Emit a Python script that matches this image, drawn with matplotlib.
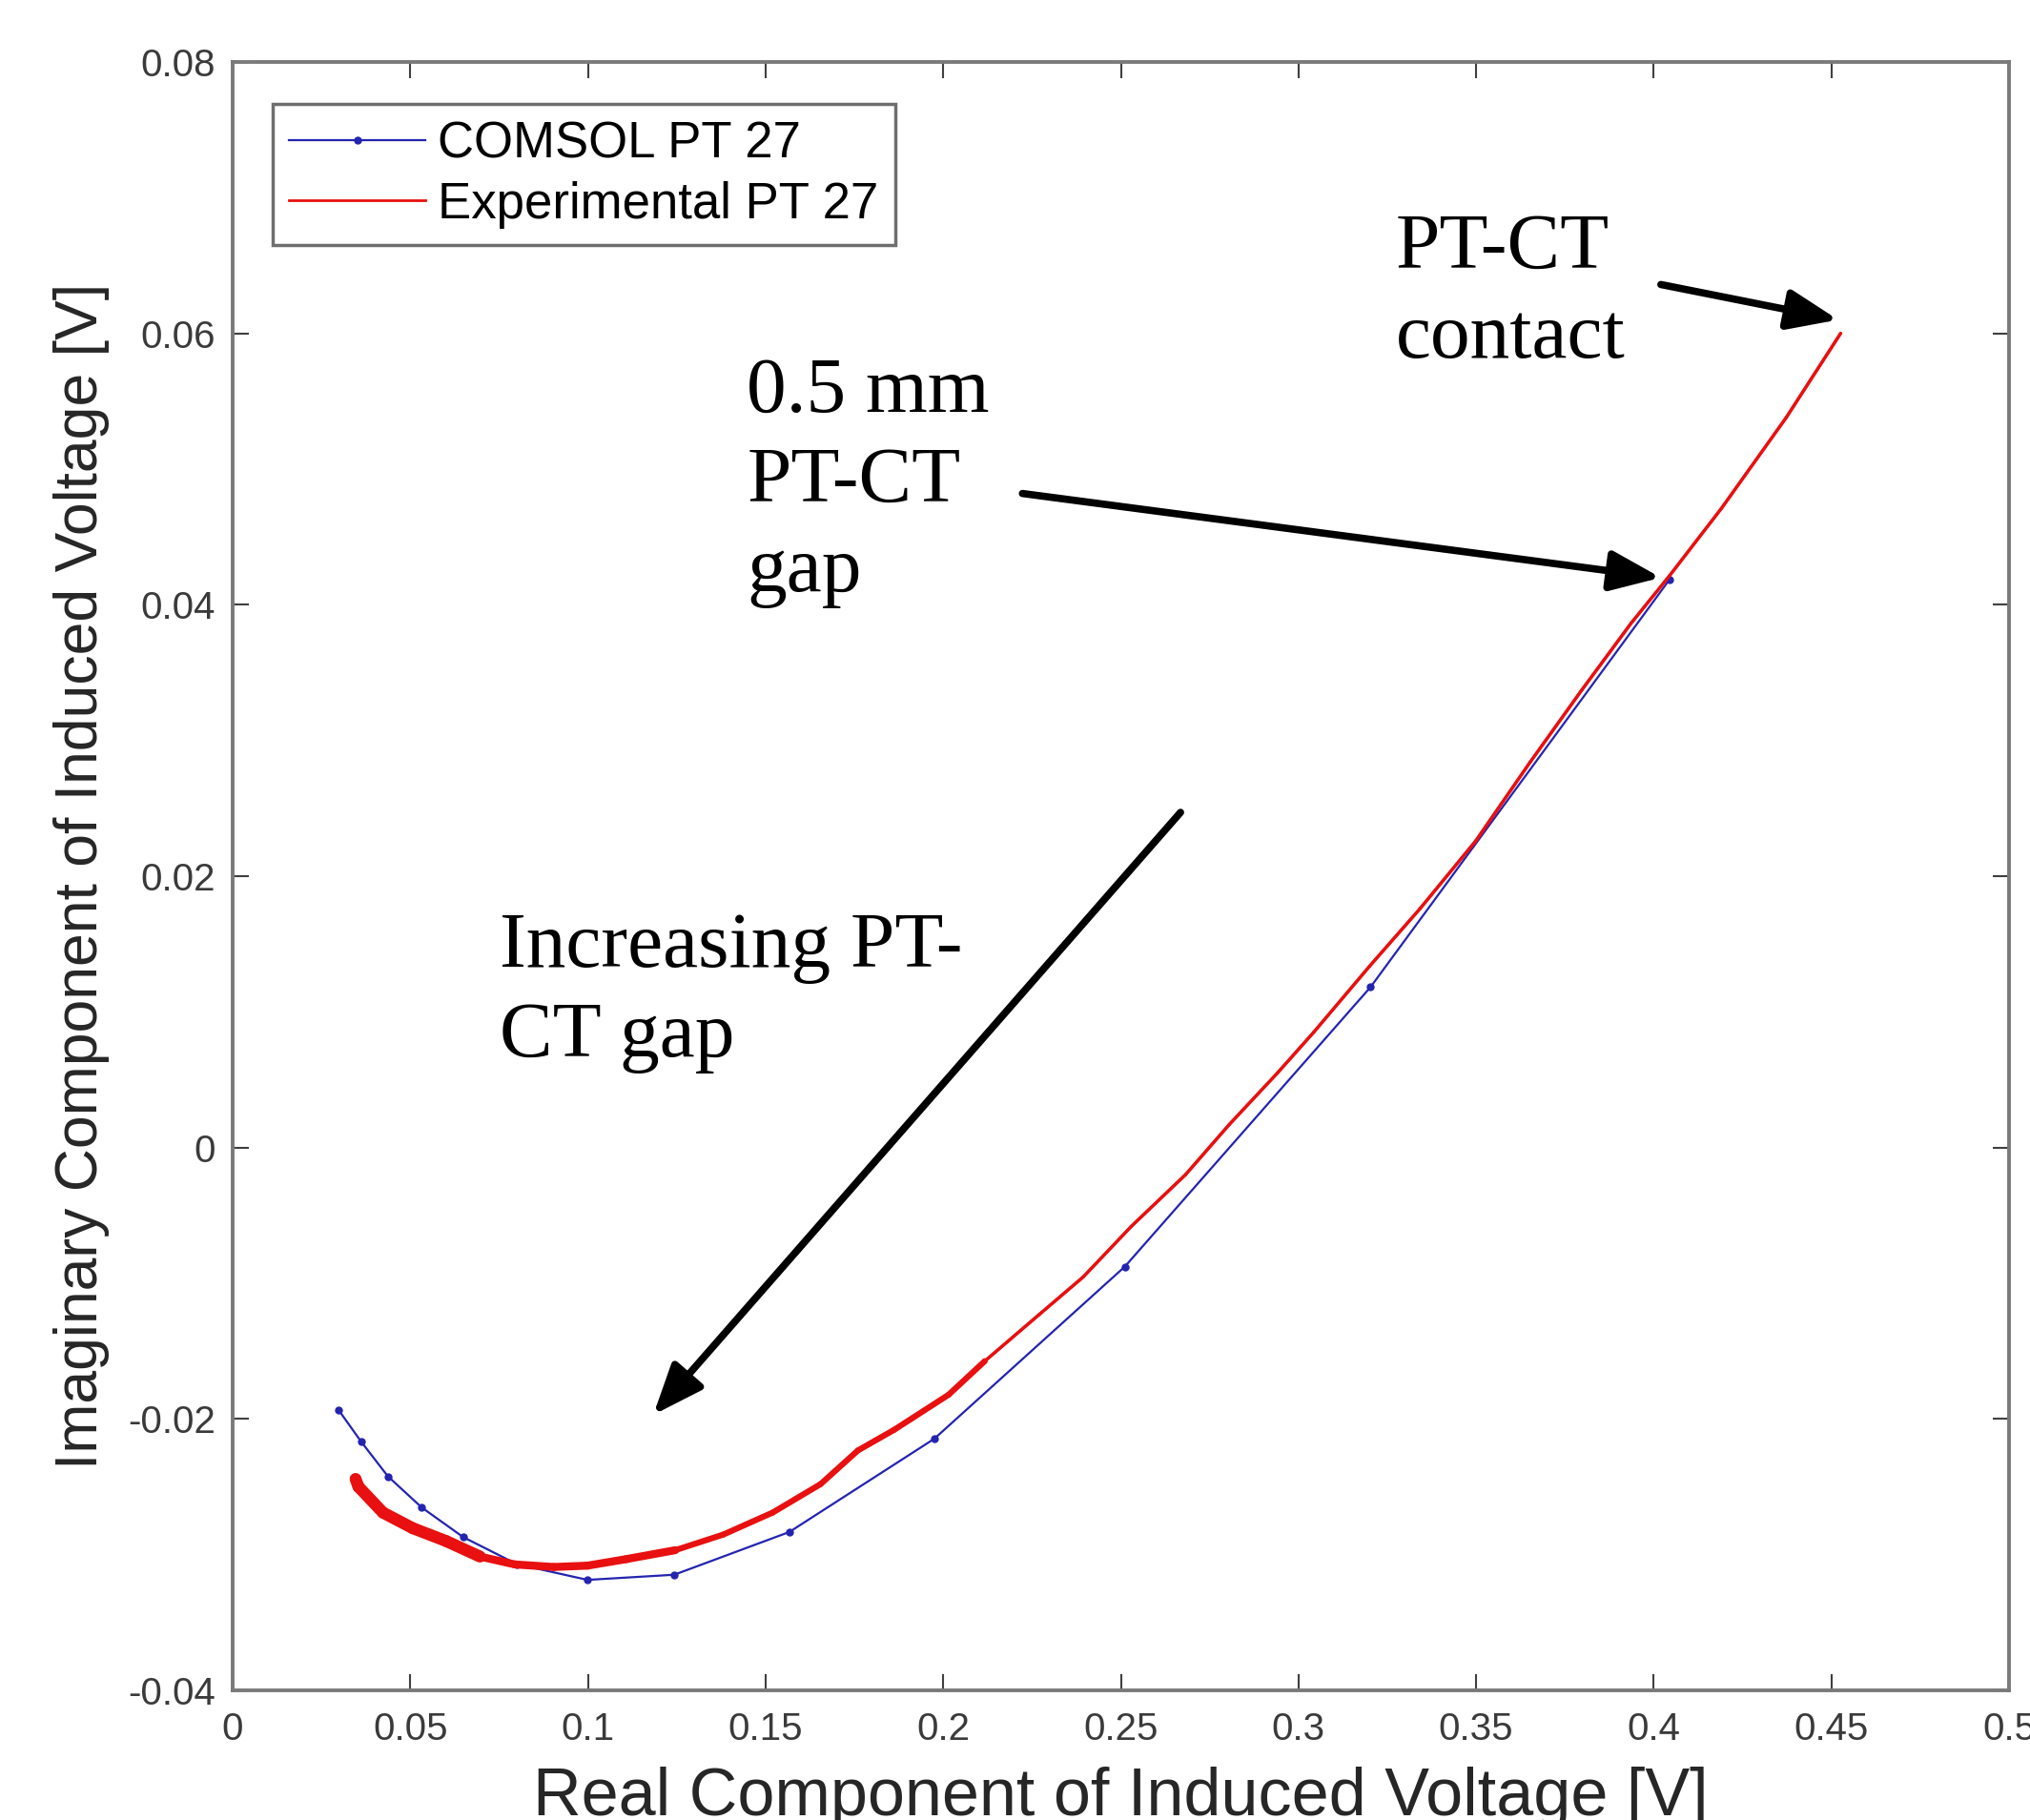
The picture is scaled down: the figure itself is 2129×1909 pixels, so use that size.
import numpy as np
import matplotlib
matplotlib.use("Agg")
import matplotlib.pyplot as plt
from matplotlib.collections import LineCollection

# ---------------- data ----------------
comsol_x = [0.0299, 0.0361, 0.0437, 0.0532, 0.0649, 0.0800, 0.0999, 0.1243,
            0.1567, 0.1975, 0.2511, 0.3203, 0.4045]
comsol_y = [-0.01937, -0.02165, -0.02423, -0.02652, -0.02871, -0.03070, -0.03186,
            -0.03148, -0.02833, -0.02146, -0.00878, 0.01183, 0.04188]

exp_x = [0.0346, 0.0354, 0.0423, 0.0507, 0.0601, 0.0696, 0.0794, 0.0904, 0.0999,
         0.1108, 0.1246, 0.1381, 0.1520, 0.1655, 0.1760, 0.1862, 0.2015, 0.2117,
         0.2270, 0.2394, 0.2529, 0.2682, 0.2806, 0.2941, 0.3043, 0.3200, 0.3342,
         0.3499, 0.3652, 0.3797, 0.3936, 0.4045, 0.4191, 0.4373, 0.4526]
exp_y = [-0.02442, -0.02499, -0.02690, -0.02805, -0.02900, -0.03014, -0.03072,
         -0.03091, -0.03081, -0.03033, -0.02967, -0.02852, -0.02690, -0.02480,
         -0.02232, -0.02080, -0.01822, -0.01574, -0.01231, -0.00954, -0.00582,
         -0.00200, 0.00172, 0.00550, 0.00850, 0.01336, 0.01760, 0.02260, 0.02840,
         0.03370, 0.03863, 0.04216, 0.04712, 0.05380, 0.06000]

x_ticks = [0, 0.05, 0.1, 0.15, 0.2, 0.25, 0.3, 0.35, 0.4, 0.45, 0.5]
x_tick_labels = ["0", "0.05", "0.1", "0.15", "0.2", "0.25", "0.3", "0.35", "0.4", "0.45", "0.5"]
y_ticks = [-0.04, -0.02, 0, 0.02, 0.04, 0.06, 0.08]
y_tick_labels = ["-0.04", "-0.02", "0", "0.02", "0.04", "0.06", "0.08"]

series_labels = ["COMSOL PT 27", "Experimental PT 27"]
note_contact = "PT-CT\ncontact"
note_gap = "0.5 mm\nPT-CT\ngap"
note_increase = "Increasing PT-\nCT gap"

# ---------------- figure ----------------
W, H, DPI = 2129, 1909, 100
fig = plt.figure(figsize=(W / DPI, H / DPI), dpi=DPI, facecolor="white")
ax = fig.add_axes([244 / W, 1 - 1773 / H, 1863 / W, 1708 / H])

sans = "Liberation Sans"
serif = "Liberation Serif"
blue = "#2424b0"
red = "#e81010"

ax.plot(comsol_x, comsol_y, "-", color=blue, lw=1.6, marker=".", markersize=10,
        label=series_labels[0], zorder=3)
ax.plot(exp_x, exp_y, "-", color=red, lw=2.0, label=series_labels[1], zorder=4)

# noisy band of the measured trace (drawn thicker where the trace is jagged)
ex = np.asarray(exp_x)
ey = np.asarray(exp_y)
segs = np.stack([np.column_stack([ex[:-1], ey[:-1]]), np.column_stack([ex[1:], ey[1:]])], axis=1)
mid = 0.5 * (ex[:-1] + ex[1:])
widths = np.where(mid < 0.07, 9, np.where(mid < 0.13, 6, np.where(mid < 0.21, 4.5, 2.5)))
ax.add_collection(LineCollection(segs, linewidths=widths, colors=red, capstyle="round",
                                 zorder=4))

ax.set_xlim(0, 0.5)
ax.set_ylim(-0.04, 0.08)
ax.set_xticks(x_ticks)
ax.set_xticklabels(x_tick_labels)
ax.set_yticks(y_ticks)
ax.set_yticklabels(y_tick_labels)

ax.tick_params(direction="in", length=12, width=1.5, color="#404040",
               top=True, right=True, labelsize=29, labelcolor="#3a3a3a")
ax.tick_params(axis="x", pad=16)
ax.tick_params(axis="y", pad=13)
for lab in ax.get_xticklabels() + ax.get_yticklabels():
    lab.set_fontfamily(sans)
for sp in ax.spines.values():
    sp.set_color("#7a7a7a")
    sp.set_linewidth(2.8)

ax.set_xlabel("Real Component of Induced Voltage [V]", fontsize=50.5, family=sans,
              color="#262626")
ax.xaxis.label.set_va("baseline")
ax.xaxis.set_label_coords(0.5, (1773 - 1904) / 1708)
ax.set_ylabel("Imaginary Component of Induced Voltage [V]", fontsize=45, family=sans,
              color="#262626")
ax.yaxis.label.set_va("baseline")
ax.yaxis.set_label_coords((102 - 244) / 1863, 0.5)

leg = ax.legend(loc="upper left", bbox_to_anchor=(0.0225, 0.9742), borderaxespad=0,
                prop={"family": sans, "size": 38}, frameon=True, fancybox=False,
                framealpha=1, edgecolor="#6e6e6e", handlelength=2.7,
                handletextpad=0.25, labelspacing=0.25, borderpad=0.33)
leg.get_frame().set_linewidth(2.5)

# ---------------- annotations ----------------
txt_kw = dict(family=serif, fontsize=60, color="black", ha="left", va="top",
              linespacing=1.33)
ax.text(0.3273, 0.0689, note_contact, **txt_kw)
ax.text(0.1447, 0.0583, note_gap, **txt_kw)
ax.text(0.0751, 0.0174, note_increase, **txt_kw)

arrow_kw = dict(arrowstyle="-|>,head_length=0.8,head_width=0.32", lw=5.5,
                color="black", mutation_scale=40, shrinkA=0, shrinkB=0)
ax.annotate("", xy=(0.4519, 0.0610), xytext=(0.4020, 0.0636), arrowprops=arrow_kw)
ax.annotate("", xy=(0.4020, 0.0420), xytext=(0.2223, 0.0482), arrowprops=arrow_kw)
ax.annotate("", xy=(0.1184, -0.0197), xytext=(0.2668, 0.0247), arrowprops=arrow_kw)

fig.savefig("out.png", dpi=DPI, facecolor="white")
